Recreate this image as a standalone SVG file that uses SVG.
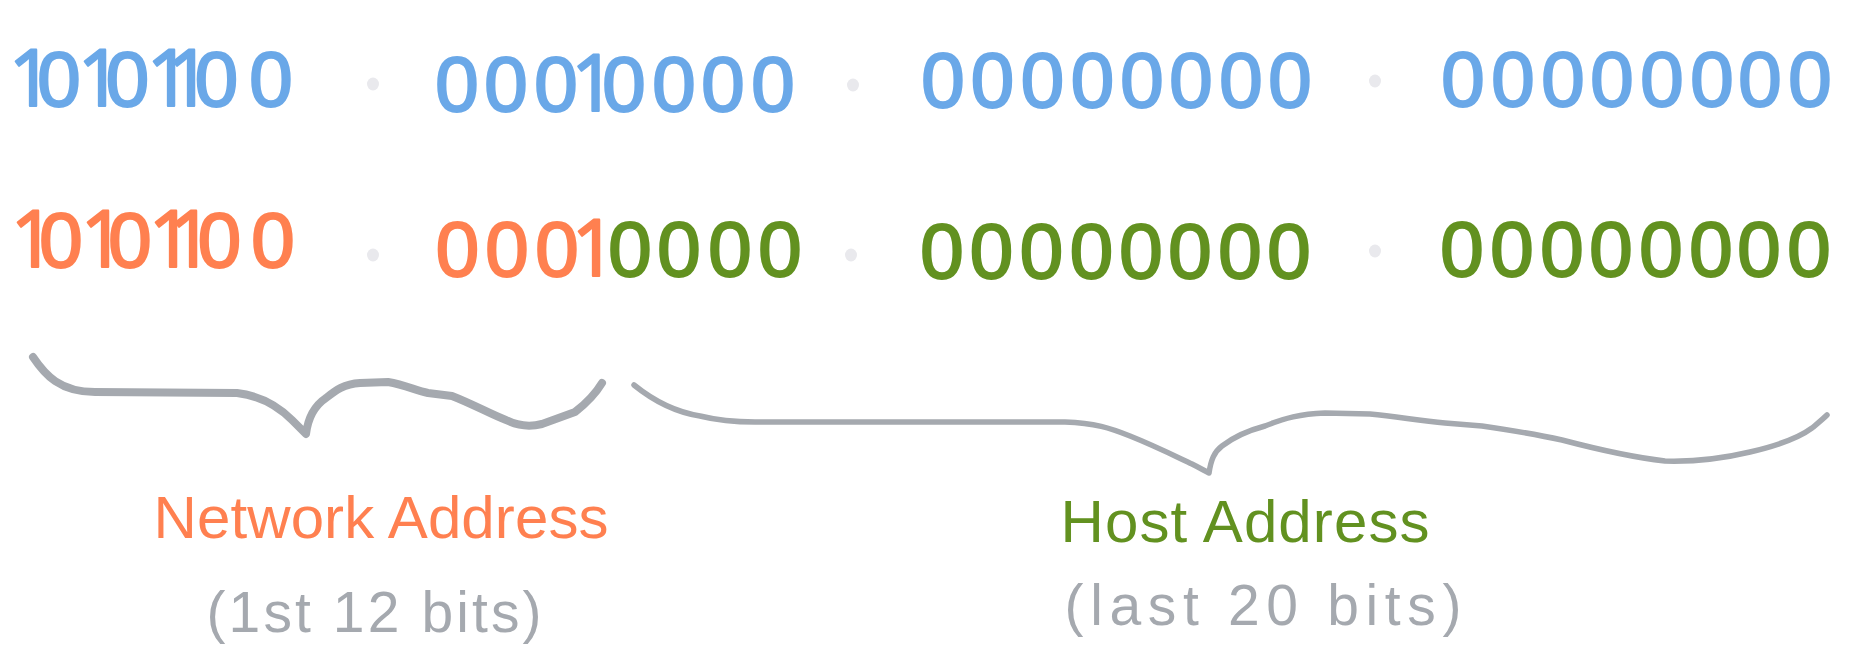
<svg xmlns="http://www.w3.org/2000/svg" width="1857" height="672" viewBox="0 0 1857 672">
<style>
  .bits { font-family: "Liberation Sans", Arial, sans-serif; font-size: 78px; text-anchor: middle; stroke-width: 2.2px; stroke-linejoin: round; }
  .one { font-family: "Open Sans", "Liberation Sans", sans-serif; }
  .blue { fill: #6aa8e8; stroke: #6aa8e8; }
  .orange { fill: #ff8050; }
  .bits.orange { stroke: #ff8050; }
  .green { fill: #629120; }
  .bits.green { stroke: #629120; }
  .dot { fill: #e9e9ed; }
  .label { font-family: "Liberation Sans", Arial, sans-serif; font-size: 60px; text-anchor: middle; }
  .sub { font-family: "Liberation Sans", Arial, sans-serif; font-size: 57px; text-anchor: middle; fill: #a5a9af; }
  .brace { fill: none; stroke: #a5a9af; stroke-linecap: round; stroke-linejoin: round; }
</style>
<rect width="1857" height="672" fill="#ffffff"/>

<g id="row1-octet1">
  <text class="bits blue" y="106"><tspan class="one" x="31">1</tspan><tspan x="59">0</tspan><tspan class="one" x="100">1</tspan><tspan x="127.5">0</tspan><tspan class="one" x="169">1</tspan><tspan class="one" x="189">1</tspan><tspan x="216.5">0</tspan><tspan x="271">0</tspan></text>
</g>
<g id="row1-dot1"><ellipse class="dot" cx="373" cy="84" rx="6" ry="6.5"/></g>
<g id="row1-octet2">
  <text class="bits blue" y="111"><tspan x="457 506 556">000</tspan><tspan class="one" x="593.5">1</tspan><tspan x="624 674 723 773">0000</tspan></text>
</g>
<g id="row1-dot2"><ellipse class="dot" cx="853" cy="85" rx="6" ry="6.5"/></g>
<g id="row1-octet3">
  <text class="bits blue" x="943 992.5 1042.5 1092.5 1142 1191 1241 1290" y="107">00000000</text>
</g>
<g id="row1-dot3"><ellipse class="dot" cx="1375" cy="81" rx="6" ry="6.5"/></g>
<g id="row1-octet4">
  <text class="bits blue" x="1463 1513 1563 1612 1662 1712 1760 1810" y="106">00000000</text>
</g>

<g id="row2-octet1">
  <text class="bits orange" y="267"><tspan class="one" x="33">1</tspan><tspan x="61">0</tspan><tspan class="one" x="103">1</tspan><tspan x="130">0</tspan><tspan class="one" x="171">1</tspan><tspan class="one" x="191">1</tspan><tspan x="219.5">0</tspan><tspan x="273">0</tspan></text>
</g>
<g id="row2-dot1"><ellipse class="dot" cx="373" cy="255" rx="6" ry="6.5"/></g>
<g id="row2-octet2">
  <text class="bits orange" y="276"><tspan x="457.5 507 557">000</tspan><tspan class="one" x="594">1</tspan></text>
  <text class="bits green" x="630 679 730 780" y="276">0000</text>
</g>
<g id="row2-dot2"><ellipse class="dot" cx="851" cy="255" rx="6" ry="6.5"/></g>
<g id="row2-octet3">
  <text class="bits green" x="942 991.5 1041.5 1091.5 1141 1190 1240 1289" y="278">00000000</text>
</g>
<g id="row2-dot3"><ellipse class="dot" cx="1375" cy="251" rx="6" ry="6.5"/></g>
<g id="row2-octet4">
  <text class="bits green" x="1462 1512 1562 1611 1661 1711 1759 1809" y="276">00000000</text>
</g>

<g id="connectors">
  <path class="brace" stroke-width="8" d="M33,357 C45,375 60,392 95,392 L237,393 C262,396 280,408 292,420 C300,428 304,432 306,434 C308,418 314,406 326,398 C336,390 344,384 360,383 L388,382 C405,385 415,390 428,393 L452,396 C475,405 490,414 506,420 C518,426 530,427 542,424 L575,412 C588,402 596,393 602,383"/>
  <path class="brace" stroke-width="5.5" d="M634,385 C655,402 675,412 700,416 C720,421 735,422 755,422 L1065,422 C1095,423 1110,428 1130,436 C1155,446 1175,456 1192,464 C1200,468 1205,471 1209,473 C1211,460 1214,452 1222,446 C1235,436 1250,430 1265,426 C1285,418 1300,414 1325,413 L1370,414 C1400,417 1420,421 1445,423 L1482,426 C1510,430 1535,434 1562,440 C1600,450 1630,457 1665,461 C1700,462 1725,458 1750,452 C1780,445 1800,437 1812,428 C1818,423 1823,419 1827,415"/>
</g>

<g id="network-label">
  <text class="label orange" x="381" y="538" textLength="455" lengthAdjust="spacing">Network Address</text>
  <text class="sub" x="374" y="632" textLength="335" lengthAdjust="spacing">(1st 12 bits)</text>
</g>
<g id="host-label">
  <text class="label green" x="1245" y="542" textLength="369" lengthAdjust="spacing">Host Address</text>
  <text class="sub" x="1263" y="625" textLength="397" lengthAdjust="spacing">(last 20 bits)</text>
</g>
</svg>
